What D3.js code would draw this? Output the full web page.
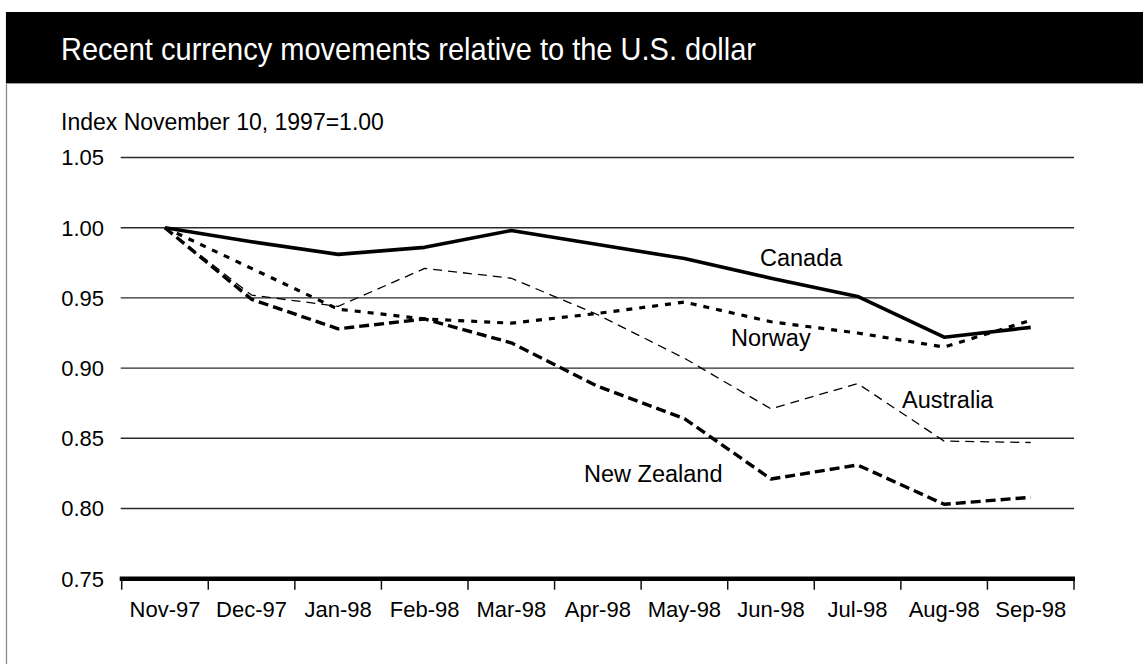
<!DOCTYPE html>
<html>
<head>
<meta charset="utf-8">
<script src="https://cdn.jsdelivr.net/npm/d3@7"></script>
<style>
  html, body { margin: 0; padding: 0; background: #fff; }
  svg { display: block; }
  text { font-family: "Liberation Sans", Arial, sans-serif; fill: #000; }
</style>
</head>
<body>
<svg id="chart" width="1143" height="664"></svg>
<script>
// Monthly index values, November 10, 1997 = 1.00
const months = ["Nov-97", "Dec-97", "Jan-98", "Feb-98", "Mar-98", "Apr-98",
                "May-98", "Jun-98", "Jul-98", "Aug-98", "Sep-98"];
const canada     = [1.000, 0.990, 0.981, 0.986, 0.998, 0.988, 0.978, 0.964, 0.951, 0.922, 0.929];
const norway     = [1.000, 0.971, 0.942, 0.935, 0.932, 0.939, 0.947, 0.933, 0.925, 0.915, 0.934];
const australia  = [1.000, 0.952, 0.944, 0.971, 0.964, 0.938, 0.907, 0.871, 0.889, 0.848, 0.847];
const newZealand = [1.000, 0.949, 0.928, 0.935, 0.918, 0.887, 0.864, 0.821, 0.831, 0.803, 0.808];
const yTicks = [0.75, 0.80, 0.85, 0.90, 0.95, 1.00, 1.05];

const titleText = "Recent currency movements relative to the U.S. dollar";
const yAxisTitle = "Index November 10, 1997=1.00";

const svg = d3.select("#chart");

// Frame and title bar
svg.append("line")
  .attr("x1", 6.5).attr("x2", 6.5).attr("y1", 12).attr("y2", 664)
  .attr("stroke", "#8a8a8a").attr("stroke-width", 1.3);
svg.append("rect")
  .attr("x", 6).attr("y", 12).attr("width", 1145).attr("height", 71)
  .attr("fill", "#000");
svg.append("line")
  .attr("x1", 6).attr("x2", 1143).attr("y1", 83.5).attr("y2", 83.5)
  .attr("stroke", "#9a9a9a").attr("stroke-width", 1);
// Condensed title: regular sans compressed horizontally to a narrow cut
svg.append("text")
  .attr("x", 61).attr("y", 60)
  .style("font-family", "'Liberation Sans', Arial, sans-serif")
  .style("font-size", "31.5px")
  .style("fill", "#fff")
  .attr("textLength", 695).attr("lengthAdjust", "spacingAndGlyphs")
  .text(titleText);

// Scales
const plotLeft = 121.7, plotRight = 1074;
const x = d3.scaleBand().domain(months).range([plotLeft, plotRight]);
const y = d3.scaleLinear().domain([0.75, 1.05]).range([578.7, 157.5]);
const cx = m => x(m) + x.bandwidth() / 2;

// Axis title
svg.append("text")
  .attr("x", 61).attr("y", 130)
  .style("font-size", "23px")
  .text(yAxisTitle);

// Horizontal gridlines
svg.append("g")
  .selectAll("line")
  .data(yTicks.filter(v => v > 0.75))
  .join("line")
  .attr("x1", plotLeft - 1).attr("x2", plotRight)
  .attr("y1", d => y(d)).attr("y2", d => y(d))
  .attr("stroke", "#2a2a2a").attr("stroke-width", 1.4);

// Y axis labels
const yAxis = d3.axisLeft(y).tickValues(yTicks).tickFormat(d3.format(".2f")).tickSize(0).tickPadding(0);
const gy = svg.append("g").attr("transform", "translate(104,0)").call(yAxis);
gy.select(".domain").remove();
gy.selectAll("text").style("font-size", "22px").attr("dy", "0.34em")
  .style("font-family", "'Liberation Sans', Arial, sans-serif");

// X axis: thick baseline, ticks at category boundaries, labels centred on categories
const xAxis = d3.axisBottom(x).tickSize(0).tickPadding(0);
const gx = svg.append("g").attr("transform", `translate(0,${y(0.75)})`).call(xAxis);
gx.select(".domain").remove();
gx.selectAll("text").style("font-size", "22px").attr("y", 38).attr("dy", 0)
  .style("font-family", "'Liberation Sans', Arial, sans-serif");

const boundaries = months.map(m => x(m)).concat([x(months[months.length - 1]) + x.bandwidth()]);
svg.append("g")
  .selectAll("line")
  .data(boundaries)
  .join("line")
  .attr("x1", d => d).attr("x2", d => d)
  .attr("y1", y(0.75)).attr("y2", y(0.75) + 11)
  .attr("stroke", "#111").attr("stroke-width", 1.5);
svg.append("line")
  .attr("x1", plotLeft - 2).attr("x2", plotRight + 1)
  .attr("y1", y(0.75)).attr("y2", y(0.75))
  .attr("stroke", "#000").attr("stroke-width", 4.5);

// Series
const series = [
  { name: "Australia",   values: australia,  width: 1.3, dash: "9,6" },
  { name: "New Zealand", values: newZealand, width: 3.4, dash: "10,5" },
  { name: "Norway",      values: norway,     width: 3.2, dash: "6,7" },
  { name: "Canada",      values: canada,     width: 3.6, dash: null }
];

const line = d3.line()
  .x((d, i) => cx(months[i]))
  .y(d => y(d));

svg.append("g")
  .selectAll("path")
  .data(series)
  .join("path")
  .attr("d", s => line(s.values))
  .attr("fill", "none")
  .attr("stroke", "#000")
  .attr("stroke-width", s => s.width)
  .attr("stroke-dasharray", s => s.dash)
  .attr("stroke-linejoin", "round");

// Series labels
const seriesLabels = [
  { text: "Canada",      x: 760, y: 266 },
  { text: "Norway",      x: 731, y: 346 },
  { text: "Australia",   x: 902, y: 408 },
  { text: "New Zealand", x: 584, y: 482 }
];
svg.append("g")
  .selectAll("text")
  .data(seriesLabels)
  .join("text")
  .attr("x", d => d.x).attr("y", d => d.y)
  .style("font-size", "23.5px")
  .text(d => d.text);
</script>
</body>
</html>
